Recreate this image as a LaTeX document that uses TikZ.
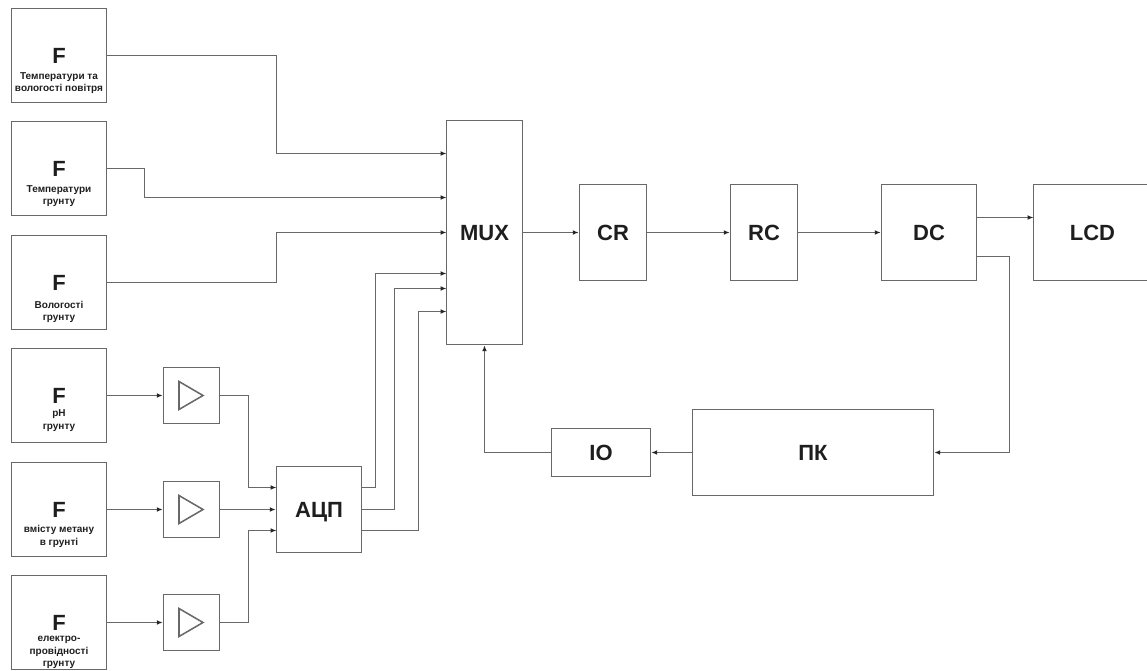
\documentclass[tikz,border=0pt]{standalone}
\usepackage{fontspec}
\setmainfont{Liberation Sans}
\usetikzlibrary{arrows.meta}
\definecolor{ln}{HTML}{686868}
\definecolor{tx}{HTML}{1E1E1E}
\tikzset{
  blk/.style={draw=ln,line width=1.2pt,inner sep=0pt,minimum width=#1},
  big/.style={font=\bfseries\fontsize{16.5}{20}\selectfont,text=tx,inner sep=0pt,text height=11.8pt,text depth=0pt},
  small/.style={font=\bfseries\fontsize{7.5}{9.6}\selectfont,text=tx,inner sep=0pt,align=center},
  conn/.style={draw=ln,line width=1.15pt,-{Latex[length=4.4pt,width=3.6pt,color=black!85]}},
  tri/.style={draw=ln,line width=1.15pt,line join=miter}
}
\begin{document}
\begin{tikzpicture}[x=0.75pt,y=-0.75pt]
\useasboundingbox (0,0) rectangle (1147,671);
\def\bx(#1,#2,#3,#4,#5,#6){\node[blk=#4*0.75pt,minimum height=#5*0.75pt,big] (#1) at (#2,#3) {#6};}
% sensors
\bx(f1,59,55.5,95,94,F)
\bx(f2,59,168.5,95,94,F)
\bx(f3,59,282.5,95,94,F)
\bx(f4,59,395.5,95,94,F)
\bx(f5,59,509.5,95,94,F)
\bx(f6,59,622.5,95,94,F)
\node[small] (t1) at (59,83) {Температури та\\вологості повітря};
\node[small] (t2) at (59,196) {Температури\\грунту};
\node[small] (t3) at (59,312) {Вологості\\грунту};
\node[small] (t4) at (59,420.5) {pH\\грунту};
\node[small] (t5) at (59,536.5) {вмісту метану\\в грунті};
\node[small] (t6) at (59,652.5) {електро-\\провідності\\грунту};
% amplifiers
\bx(a1,191.5,395.5,56,56,{})
\bx(a2,191.5,509.5,56,56,{})
\bx(a3,191.5,622.5,56,56,{})
\draw[tri] (179,381.5) -- (203,395.5) -- (179,409.5) -- cycle;
\draw[tri] (179,495.5) -- (203,509.5) -- (179,523.5) -- cycle;
\draw[tri] (179,608.5) -- (203,622.5) -- (179,636.5) -- cycle;
% main blocks
\bx(adc,319,509.5,85,86,АЦП)
\bx(mux,484.5,232.5,76,224,MUX)
\bx(cr,613,232.5,67,96,CR)
\bx(rc,764,232.5,67,96,RC)
\bx(dc,929,232.5,95,96,DC)
\bx(lcd,1092.5,232.5,118,96,LCD)
\bx(pk,813,452.5,241,86,ПК)
\bx(io,601,452.5,99,48,IO)
% ports
\coordinate (m1) at (446.5,153.5);
\coordinate (m2) at (446.5,197.5);
\coordinate (m3) at (446.5,232.5);
\coordinate (m4) at (446.5,273.5);
\coordinate (m5) at (446.5,288.5);
\coordinate (m6) at (446.5,311.5);
\coordinate (ai1) at (276.5,487.5);
\coordinate (ai3) at (276.5,530.5);
\coordinate (ao1) at (361.5,487.5);
\coordinate (ao3) at (361.5,530.5);
\coordinate (dl) at (976.5,217.5);
\coordinate (lc) at (1033.5,217.5);
\coordinate (dp) at (976.5,256.5);
% connectors
\draw[conn] (f1.east) -- (276.5,55.5) -- (276.5,153.5) -- (m1);
\draw[conn] (f2.east) -- (144.5,168.5) -- (144.5,197.5) -- (m2);
\draw[conn] (f3.east) -- (276.5,282.5) -- (276.5,232.5) -- (m3);
\draw[conn] (f4.east) -- (a1.west);
\draw[conn] (f5.east) -- (a2.west);
\draw[conn] (f6.east) -- (a3.west);
\draw[conn] (a1.east) -- (248.5,395.5) -- (248.5,487.5) -- (ai1);
\draw[conn] (a2.east) -- (adc.west);
\draw[conn] (a3.east) -- (248.5,622.5) -- (248.5,530.5) -- (ai3);
\draw[conn] (ao1) -- (375.5,487.5) -- (375.5,273.5) -- (m4);
\draw[conn] (adc.east) -- (394.5,509.5) -- (394.5,288.5) -- (m5);
\draw[conn] (ao3) -- (418.5,530.5) -- (418.5,311.5) -- (m6);
\draw[conn] (mux.east) -- (cr.west);
\draw[conn] (cr.east) -- (rc.west);
\draw[conn] (rc.east) -- (dc.west);
\draw[conn] (dl) -- (lc);
\draw[conn] (dp) -- (1009.5,256.5) -- (1009.5,452.5) -- (pk.east);
\draw[conn] (pk.west) -- (io.east);
\draw[conn] (io.west) -- (484.5,452.5) -- (mux.south);
\end{tikzpicture}
\end{document}
